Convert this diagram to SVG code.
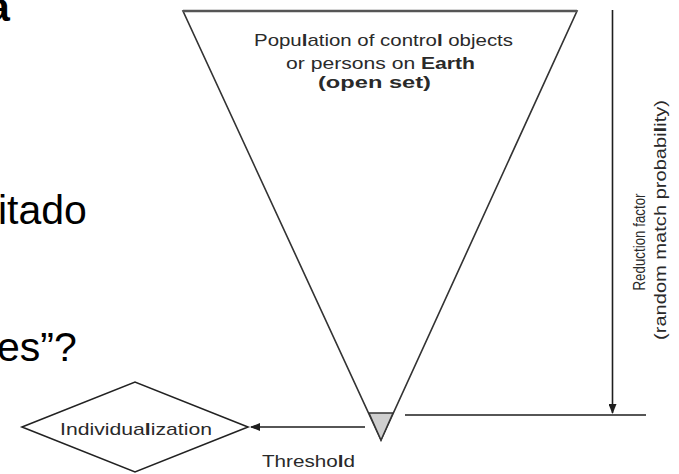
<svg xmlns="http://www.w3.org/2000/svg" width="679" height="474" viewBox="0 0 679 474">
<style>
.lbl{font-family:"Liberation Sans",Arial,sans-serif;font-size:17px;fill:#2a2a2a}
.b{font-weight:bold}
.slide{font-family:"Liberation Sans",Arial,sans-serif;font-size:41px;fill:#000}
.ln{stroke:#1e1e1e;stroke-width:1.6;fill:none}
</style>
<defs>
<marker id="ah" viewBox="0 0 10 8" refX="9" refY="4" markerWidth="10" markerHeight="8" markerUnits="userSpaceOnUse" orient="auto">
<path d="M0,0 L10,4 L0,8 Z" fill="#1e1e1e"/>
</marker>
</defs>
<rect width="679" height="474" fill="#fff"/>
<g id="slide-text">
<text class="slide b" x="-13" y="21">a</text>
<text class="slide" x="-2" y="224">itado</text>
<text class="slide" x="-3" y="361">es”?</text>
</g>
<g id="population">
<path d="M183,11 L577,11 L381,440 Z" fill="#fff" stroke="#333" stroke-width="1.6"/>
<line x1="183" y1="11" x2="577" y2="11" stroke="#555" stroke-width="2.4"/>
<text class="lbl" x="383.5" y="46" text-anchor="middle" textLength="259" lengthAdjust="spacingAndGlyphs">Popu<tspan class="b">l</tspan>ation of contro<tspan class="b">l</tspan> objects</text>
<text class="lbl" x="380.5" y="68.5" text-anchor="middle" textLength="189" lengthAdjust="spacingAndGlyphs">or persons on <tspan class="b">Earth</tspan></text>
<text class="lbl b" x="374.5" y="88" text-anchor="middle" textLength="113" lengthAdjust="spacingAndGlyphs">(open set)</text>
</g>
<g id="threshold-apex">
<path d="M369,413 L393,413 L381,440 Z" fill="#cfcfcf" stroke="#333" stroke-width="1.4"/>
</g>
<g id="individualization">
<path d="M22,427 L135,382 L248,427 L135,472 Z" fill="#fff" stroke="#222" stroke-width="1.6"/>
<text class="lbl" x="136" y="435" text-anchor="middle" textLength="152" lengthAdjust="spacingAndGlyphs" font-size="18">Individua<tspan class="b">l</tspan>ization</text>
</g>
<g id="threshold-label">
<text class="lbl" x="308.5" y="467" text-anchor="middle" textLength="93" lengthAdjust="spacingAndGlyphs">Thresho<tspan class="b">l</tspan>d</text>
</g>
<g id="reduction-factor">
<line class="ln" x1="405" y1="415" x2="646" y2="415" stroke-width="2"/>
<text class="lbl" transform="translate(645,242) rotate(-90)" text-anchor="middle" textLength="97" lengthAdjust="spacingAndGlyphs" font-size="16">Reduction factor</text>
<text class="lbl" transform="translate(666,220) rotate(-90)" text-anchor="middle" textLength="240" lengthAdjust="spacingAndGlyphs" font-size="17">(random match probabi<tspan class="b">l</tspan>ity)</text>
</g>
<g id="connectors">
<line class="ln" x1="365" y1="427" x2="251" y2="427" marker-end="url(#ah)"/>
<line class="ln" x1="612.5" y1="10" x2="612.5" y2="413" stroke-width="1.8" marker-end="url(#ah)"/>
</g>
</svg>
